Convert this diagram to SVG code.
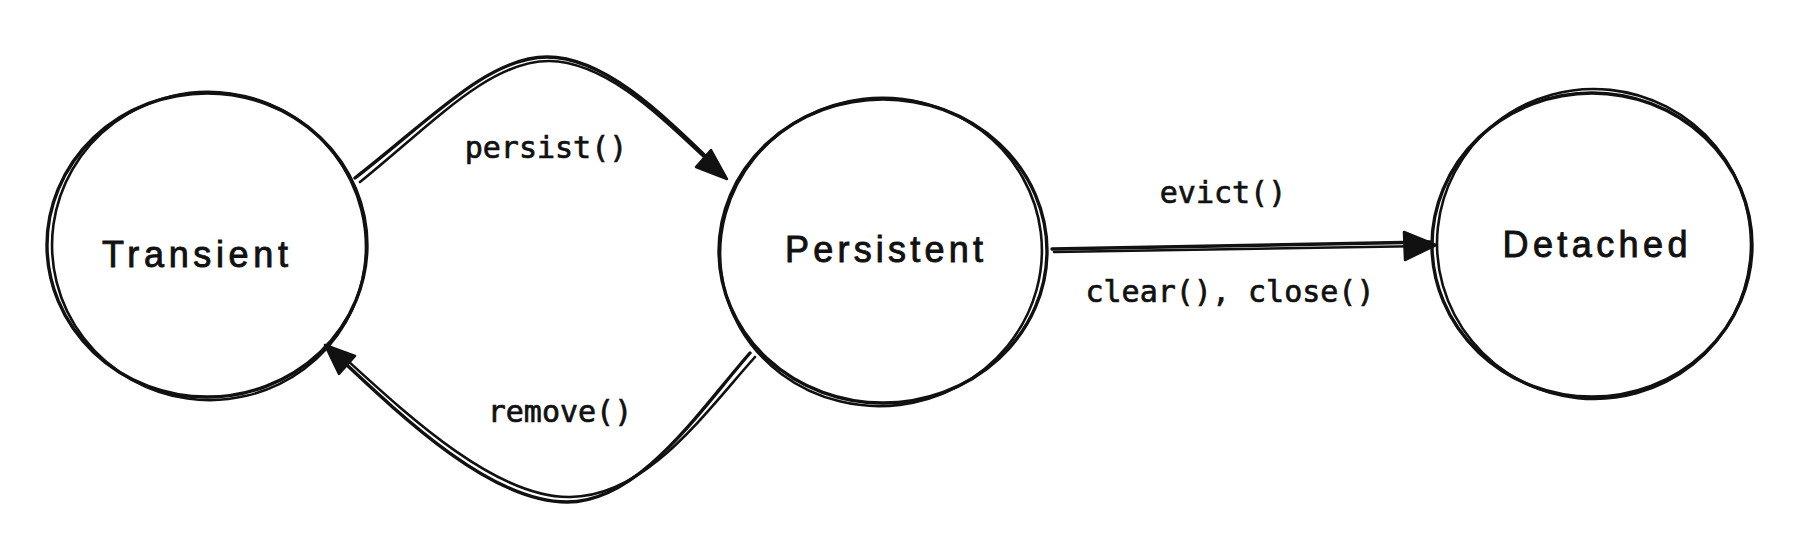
<svg xmlns="http://www.w3.org/2000/svg" width="1806" height="540" viewBox="0 0 1806 540">
<style>
.sk{fill:none;stroke:#111111;stroke-width:3.4;stroke-linecap:round;stroke-linejoin:round}
.sk2{fill:none;stroke:#111111;stroke-width:2.6;stroke-linecap:round;stroke-linejoin:round}
.head{fill:#111111;stroke:#111111;stroke-width:2.5;stroke-linejoin:round}
.node{font-family:"Liberation Sans","DejaVu Sans",sans-serif;font-size:36px;fill:#111111;stroke:#111111;stroke-width:0.9;text-anchor:middle}
.lbl{font-family:"DejaVu Sans Mono","Liberation Mono",monospace;font-size:30px;fill:#111111;stroke:#111111;stroke-width:0.7;text-anchor:middle}
</style>
<rect width="1806" height="540" fill="#ffffff"/>
<g id="connectors">
  <g id="edge-persist">
    <path class="sk" d="M355,178 C430,120 488,57 547,57 C606,57 664,116 722,172"/>
    <path class="sk2" d="M360,182 C434,122 490,61 549,61 C608,62 662,118 718,170"/>
    <polygon class="head" points="727,179 696,167 711,150"/>
    <text class="lbl" x="546" y="158">persist()</text>
  </g>
  <g id="edge-remove">
    <path class="sk" d="M750,353 C700,410 640,502 567,502 C490,502 400,415 333,352"/>
    <path class="sk2" d="M755,357 C704,414 646,497 570,497 C494,498 404,412 336,350"/>
    <polygon class="head" points="325,345 355,356 339,374"/>
    <text class="lbl" x="560" y="422">remove()</text>
  </g>
  <g id="edge-detach">
    <path class="sk" d="M1052,249 L1430,242"/>
    <path class="sk2" d="M1054,252 L1428,246"/>
    <polygon class="head" points="1436,245 1404,232 1405,260"/>
    <text class="lbl" x="1223" y="203">evict()</text>
    <text class="lbl" x="1230" y="302">clear(), close()</text>
  </g>
</g>
<g id="node-transient">
  <ellipse class="sk" cx="207" cy="245" rx="160" ry="152"/>
  <ellipse class="sk2" cx="209" cy="246" rx="157" ry="154" transform="rotate(8 209 246)"/>
  <text class="node" x="195" y="267" textLength="186" lengthAdjust="spacing">Transient</text>
</g>
<g id="node-persistent">
  <ellipse class="sk" cx="883" cy="251" rx="164" ry="152"/>
  <ellipse class="sk2" cx="881" cy="252" rx="161" ry="154" transform="rotate(-7 881 252)"/>
  <text class="node" x="884" y="262" textLength="198" lengthAdjust="spacing">Persistent</text>
</g>
<g id="node-detached">
  <ellipse class="sk" cx="1592" cy="245" rx="160" ry="152"/>
  <ellipse class="sk2" cx="1594" cy="244" rx="157" ry="155" transform="rotate(6 1594 244)"/>
  <text class="node" x="1595" y="257" textLength="185" lengthAdjust="spacing">Detached</text>
</g>
</svg>
